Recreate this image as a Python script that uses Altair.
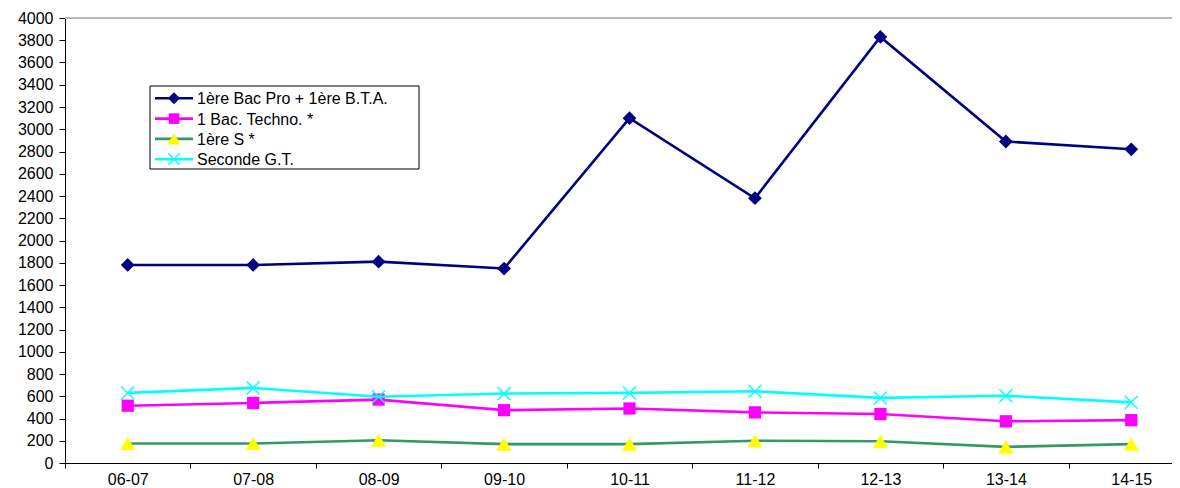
import altair as alt
import pandas as pd

seasons = ["06-07", "07-08", "08-09", "09-10", "10-11", "11-12", "12-13", "13-14", "14-15"]
series_names = ["1ère Bac Pro + 1ère B.T.A.", "1 Bac. Techno. *", "1ère S *", "Seconde G.T."]
bac_pro = [1780, 1780, 1810, 1748, 3100, 2380, 3830, 2890, 2820]
bac_techno = [515, 540, 570, 475, 490, 455, 440, 375, 385]
premiere_s = [175, 175, 205, 170, 170, 200, 195, 145, 170]
seconde_gt = [630, 675, 595, 625, 630, 645, 585, 605, 545]
y_ticks = list(range(0, 4001, 200))
top_line = [4000]

values = [bac_pro, bac_techno, premiere_s, seconde_gt]
rows = []
for name, vals in zip(series_names, values):
    for s, v in zip(seasons, vals):
        rows.append({"series": name, "season": s, "value": v})
df = pd.DataFrame(rows)
legend_df = pd.DataFrame({"series": series_names})

X_PATH = "M-1,-1L1,1M1,-1L-1,1"
styles = {
    series_names[0]: dict(line="#000080", shape="diamond", fill="#000080", stroke=None, size=190),
    series_names[1]: dict(line="#FF00FF", shape="square", fill="#FF00FF", stroke=None, size=150),
    series_names[2]: dict(line="#339966", shape="triangle-up", fill="#FFFF00", stroke=None, size=230),
    series_names[3]: dict(line="#00FFFF", shape=X_PATH, fill=None, stroke="#00FFFF", size=170),
}

FONT = "Liberation Sans"
x_axis = alt.Axis(labelAngle=0, tickBand="extent", domainColor="black", tickColor="black",
                  labelColor="black", labelFont=FONT, labelFontSize=16, tickSize=5,
                  labelPadding=3, grid=False, domainWidth=1)
y_axis = alt.Axis(values=y_ticks, format="d", labelOverlap=False, domainColor="black",
                  tickColor="black", labelColor="black", labelFont=FONT, labelFontSize=16,
                  tickSize=6, labelPadding=6, grid=False, domainWidth=1)
y_scale = alt.Scale(domain=[0, 4000], nice=False)

x_enc = alt.X("season:N", sort=seasons, title=None, scale=alt.Scale(range=[0, 1129]), axis=x_axis)
y_enc = alt.Y("value:Q", title=None, scale=y_scale, axis=y_axis)

base = alt.Chart(df)
layers = []

for name in series_names:
    st = styles[name]
    f = base.transform_filter(alt.datum.series == name)
    layers.append(f.mark_line(color=st["line"], strokeWidth=2.6).encode(x=x_enc, y=y_enc))
    pt_kwargs = dict(shape=st["shape"], size=st["size"], opacity=1)
    if st["fill"]:
        pt_kwargs.update(filled=True, color=st["fill"])
    else:
        pt_kwargs.update(filled=False, color=st["stroke"], strokeWidth=1.4)
    layers.append(f.mark_point(**pt_kwargs).encode(x=x_enc, y=y_enc))

top_rule = alt.Chart(pd.DataFrame({"value": top_line})).mark_rule(color="#A6A6A6", strokeWidth=1.5).encode(
    y=y_enc, x=alt.value(0), x2=alt.value(1129)
)
layers.insert(0, top_rule)

# legend box
leg_box = alt.Chart(pd.DataFrame({"a": [0]})).mark_rect(fill="white", stroke="black", strokeWidth=1).encode(
    x=alt.value(85), x2=alt.value(354), y=alt.value(68), y2=alt.value(151)
)
layers.append(leg_box)
lb = alt.Chart(legend_df)
for i, name in enumerate(series_names):
    st = styles[name]
    yy = 80.3 + 20.3 * i
    f = lb.transform_filter(alt.datum.series == name)
    layers.append(f.mark_rule(color=st["line"], strokeWidth=2.6).encode(
        x=alt.value(90), x2=alt.value(128), y=alt.value(yy)))
    pt_kwargs = dict(shape=st["shape"], size=st["size"] * 0.75, opacity=1)
    if st["fill"]:
        pt_kwargs.update(filled=True, color=st["fill"])
    else:
        pt_kwargs.update(filled=False, color=st["stroke"], strokeWidth=1.4)
    layers.append(f.mark_point(**pt_kwargs).encode(x=alt.value(109), y=alt.value(yy)))
    layers.append(f.mark_text(align="left", baseline="middle", font=FONT, fontSize=16, color="black").encode(
        x=alt.value(132), y=alt.value(yy + 1), text="series:N"))

chart = alt.layer(*layers).properties(
    width=1107, height=445,
    autosize=alt.AutoSizeParams(type="none"),
    padding={"left": 57, "top": 10, "right": 0, "bottom": 25},
).configure_view(stroke=None).configure(background="white")

chart.save("out.html", embed_options={"renderer": "svg", "actions": False})
